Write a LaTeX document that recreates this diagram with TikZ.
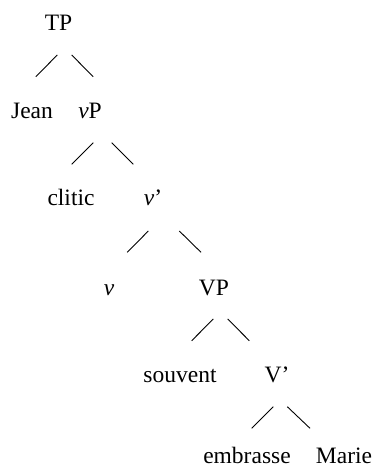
\documentclass[tikz,border=0pt]{standalone}
\usepackage{fontspec}
\setmainfont{Liberation Serif}
\begin{document}
\begin{tikzpicture}[x=1pt,y=-1pt,
  lbl/.style={anchor=base,inner sep=0pt,outer sep=0pt,font=\fontsize{23.5}{28}\selectfont},
  br/.style={line width=0.9pt,black}]
\useasboundingbox (0,0) rectangle (375,472);
\node[lbl] (TP) at (58.5,30) {TP};
\node[lbl] (Jean) at (32,118) {Jean};
\node[lbl] (vP) at (90,118) {\textit{v}P};
\node[lbl] (clitic) at (71,205) {clitic};
\node[lbl] (vbar) at (153,205) {\textit{v}’};
\node[lbl] (v) at (109,295) {\textit{v}};
\node[lbl] (VP) at (214,295) {VP};
\node[lbl] (souvent) at (180,382) {souvent};
\node[lbl] (Vbar) at (277,382) {V’};
\node[lbl] (embrasse) at (247,463) {embrasse};
\node[lbl] (Marie) at (344,463) {Marie};
% branches
\draw[br] ([shift={(-1.2,25)}]TP.base) -- ++(-21.5,21.7);
\draw[br] ([shift={(13.2,25)}]TP.base) -- ++(21.5,21.7);
\draw[br] ([shift={(3.3,24.7)}]vP.base) -- ++(-21.5,21.6);
\draw[br] ([shift={(21.7,24.7)}]vP.base) -- ++(21.5,21.6);
\draw[br] ([shift={(-4.7,26)}]vbar.base) -- ++(-21,21.3);
\draw[br] ([shift={(26.3,26)}]vbar.base) -- ++(21.7,21.3);
\draw[br] ([shift={(-0.7,24)}]VP.base) -- ++(-21.6,21.7);
\draw[br] ([shift={(13.7,24)}]VP.base) -- ++(21.6,21.7);
\draw[br] ([shift={(-3.7,24.7)}]Vbar.base) -- ++(-21.6,21.6);
\draw[br] ([shift={(10.3,24.7)}]Vbar.base) -- ++(22.7,21.6);
\end{tikzpicture}
\end{document}
